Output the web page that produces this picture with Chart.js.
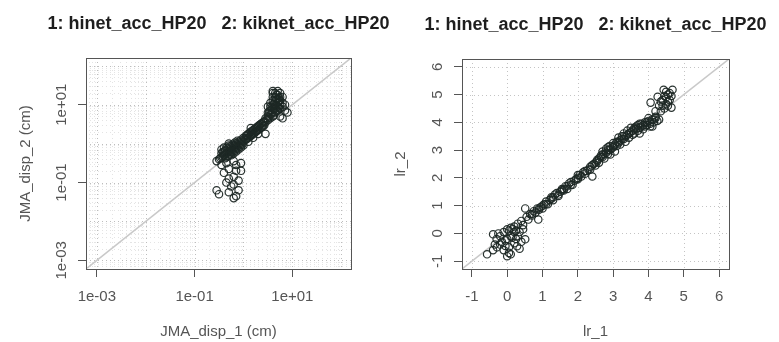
<!DOCTYPE html>
<html>
<head>
<meta charset="utf-8">
<script src="https://cdn.jsdelivr.net/npm/chart.js@4.4.1/dist/chart.umd.min.js"></script>
<style>
html, body { margin: 0; padding: 0; background: #fff; }
body { width: 779px; height: 342px; position: relative; overflow: hidden; }
canvas { position: absolute; top: 0; }
</style>
</head>
<body>
<canvas id="dispChart" width="437" height="342" style="left:0"></canvas>
<canvas id="lrChart" width="411" height="342" style="left:390px"></canvas>
<script>
const plotTitle = '1: hinet_acc_HP20   2: kiknet_acc_HP20';

// left panel: JMA displacement (cm), log axes
const dispLim = [0.000631, 158.5];
const dispTicks = [0.001, 0.1, 10];
const dispTickLabels = ['1e-03', '1e-01', '1e+01'];
const dispX = [
  0.282, 0.316, 0.501, 0.631, 0.794, 0.708, 0.447, 0.631, 0.398, 0.708, 0.891, 0.501, 0.631, 0.562, 0.794, 0.501, 0.708, 0.282, 0.355, 0.891, 0.631, 0.447,
  0.316, 0.355, 0.398, 0.355, 0.398, 0.447, 0.447, 0.501, 0.501, 0.447, 0.501, 0.562, 0.562, 0.562, 0.631, 0.631, 0.631, 0.708, 0.708, 0.708, 0.794, 0.794, 0.794, 0.891, 0.891, 0.891, 1.0, 1.0, 1.0, 0.398, 0.355, 0.501,
  1.12, 1.12, 1.26, 1.26, 1.41, 1.41, 1.58, 1.58, 1.78, 1.78, 2.0, 2.0, 2.24, 2.24, 2.51, 2.51, 1.26, 1.58, 2.0, 2.82, 1.41,
  2.82, 2.82, 3.16, 3.16, 3.16, 3.55, 3.55, 3.55, 3.55, 3.98, 3.98, 3.98, 3.98, 3.98, 4.47, 4.47, 4.47, 4.47, 4.47, 5.01, 5.01, 5.01, 5.01, 5.01, 5.62, 5.62, 5.62, 5.62, 6.31, 6.31, 3.98, 3.98, 4.47, 5.01, 3.55, 3.16,
  6.31, 7.94, 7.08, 5.62, 7.08, 6.31, 3.98, 5.62,
  0.335, 0.376, 0.422, 0.473, 0.531, 0.596, 0.668, 0.750, 0.841, 0.944, 1.059, 0.376, 0.422, 0.473, 0.531, 0.596, 0.668, 0.750, 0.422, 0.473, 0.531, 0.596, 0.668, 0.750, 0.841, 0.944,
  1.189, 1.334, 1.496, 1.679, 1.884, 2.113, 2.371, 2.661, 1.189, 1.334, 1.496, 1.679, 1.884, 2.113, 2.371, 2.661,
  2.985, 3.350, 3.758, 4.217, 4.732, 5.309, 4.217, 4.732, 3.758, 3.350, 4.217, 4.732, 5.309, 4.732, 5.309
];
const dispY = [
  0.0631, 0.0501, 0.0562, 0.0398, 0.0631, 0.0447, 0.1, 0.0891, 0.178, 0.2, 0.2, 0.126, 0.141, 0.0794, 0.112, 0.224, 0.282, 0.355, 0.282, 0.316, 0.355, 0.316,
  0.398, 0.447, 0.501, 0.562, 0.631, 0.562, 0.447, 0.501, 0.631, 0.794, 0.891, 0.631, 0.794, 0.501, 0.708, 0.891, 0.562, 0.794, 1.0, 0.631, 0.891, 1.12, 0.708, 1.0, 1.26, 0.794, 1.12, 1.41, 0.891, 0.794, 0.708, 1.0,
  1.26, 1.58, 1.41, 1.78, 1.58, 2.0, 1.78, 2.24, 2.0, 2.51, 2.24, 2.82, 2.51, 3.16, 2.82, 3.55, 1.12, 1.41, 1.78, 1.78, 2.51,
  3.55, 4.47, 3.98, 5.01, 6.31, 4.47, 5.62, 7.08, 8.91, 5.01, 6.31, 7.94, 10, 12.6, 6.31, 7.94, 10, 12.6, 15.8, 7.08, 8.91, 11.2, 14.1, 17.8, 7.94, 10, 12.6, 15.8, 8.91, 11.2, 15.8, 20, 20, 22.4, 11.2, 8.91,
  4.47, 6.31, 7.08, 5.01, 10, 15.8, 22.4, 20,
  0.422, 0.473, 0.531, 0.596, 0.668, 0.750, 0.841, 0.944, 1.059, 1.189, 1.334, 0.596, 0.668, 0.750, 0.841, 0.944, 1.059, 1.189, 0.422, 0.473, 0.531, 0.596, 0.668, 0.750, 0.841, 0.944,
  1.334, 1.496, 1.679, 1.884, 2.113, 2.371, 2.661, 2.985, 1.679, 1.884, 2.113, 2.371, 2.661, 2.985, 3.350, 3.758,
  4.217, 4.732, 5.957, 7.499, 9.441, 11.89, 10.59, 13.34, 8.414, 6.683, 5.309, 6.683, 8.414, 17.78, 14.96
];

// right panel: lr_1 vs lr_2, linear axes
const lrLim = [-1.28, 6.28];
const lrTicks = [-1, 0, 1, 2, 3, 4, 5, 6];
const lrX = [
  -0.57, -0.4, -0.35, -0.29, -0.3, -0.4, -0.25, -0.15, -0.1, 0, 0.05, 0.1, -0.05, 0, 0.05, 0.1, 0.15, 0.2, 0.28, 0.35, 0.4, 0.51, 0.3, 0.2, 0.1, -0.1, 0, -0.2, 0.35, 0.25, 0.45, 0.4, 0.51, 0.6, 0.88, 0.7, 0.55, 0.3,
  0.75, 0.8, 0.9, 1.0, 1.0, 1.1, 1.15, 1.2, 1.3, 1.3, 1.4, 1.45, 1.5, 1.55, 1.6, 1.7, 1.7, 1.8, 1.85, 1.9, 2.0, 2.0, 2.1, 2.15, 2.2, 2.3, 2.35, 2.41, 2.45, 2.5, 2.5,
  2.6, 2.6, 2.65, 2.7, 2.7, 2.75, 2.8, 2.8, 2.85, 2.9, 2.92, 2.9, 3.0, 3.0, 3.05, 3.1, 3.1, 3.15, 3.2, 3.2, 3.25, 3.3, 3.3, 3.35, 3.4, 3.4, 3.45, 3.5, 3.5, 3.55, 3.6, 3.6, 3.65, 3.7, 3.7, 3.75, 3.8, 3.8, 3.85, 3.9, 3.95, 4.0, 4.0, 4.05, 4.1, 4.11, 4.15, 4.2, 4.25, 4.3,
  4.26, 4.43, 4.68, 4.65, 4.06, 4.3, 4.4, 4.5, 4.55, 4.6, 4.45, 4.5, 4.6, 4.35, 4.55, 4.2,
  0.65, 0.85, 0.95, 1.05, 1.25, 1.35, 1.55, 1.65, 1.75, 1.95, 2.05, 2.25, 2.4, 2.55, 2.65, 2.75, 2.85, 2.95, 3.05, 3.15, 3.25, 3.35, 3.45, 3.55, 3.65, 3.75, 3.85, 3.95, 4.05, 4.15,
  0.7, 0.9, 1.1, 1.25, 1.45, 1.6, 1.8, 2.0, 2.2, 2.35, 2.55, 2.7, 2.85, 3.0, 3.15, 3.3, 3.45, 3.6, 3.75, 3.9, 4.05, 4.2,
  4.35, 4.45, 4.55, 4.65, 4.4, 4.5,
  -0.2, 0.05, 0.15, 0.25, -0.05, 0.2, 0.45
];
const lrY = [
  -0.75, -0.6, -0.4, -0.5, -0.2, -0.03, 0.0, -0.3, -0.6, -0.82, -0.7, -0.75, -0.45, -0.2, 0.1, -0.1, 0.15, -0.35, -0.46, -0.55, -0.3, -0.21, -0.1, 0.25, 0.2, 0.05, 0.15, -0.1, 0.05, 0.1, 0.3, 0.45, 0.9, 0.5, 0.5, 0.7, 0.6, 0.35,
  0.8, 0.75, 0.9, 1.0, 0.9, 1.15, 1.05, 1.2, 1.3, 1.2, 1.45, 1.35, 1.5, 1.6, 1.55, 1.7, 1.6, 1.85, 1.75, 1.9, 2.0, 2.1, 2.05, 2.2, 2.15, 2.3, 2.4, 2.05, 2.5, 2.55, 2.45,
  2.7, 2.55, 2.8, 2.75, 2.95, 2.7, 2.9, 3.05, 2.85, 3.0, 2.84, 3.15, 3.1, 3.25, 2.95, 3.3, 3.15, 3.45, 3.35, 3.2, 3.5, 3.4, 3.6, 3.3, 3.55, 3.7, 3.45, 3.65, 3.8, 3.55, 3.75, 3.6, 3.85, 3.7, 3.9, 3.6, 3.85, 3.95, 3.75, 4.0, 3.9, 4.05, 4.15, 3.85, 4.1, 3.85, 4.0, 4.2, 4.05, 4.1,
  4.92, 5.17, 5.17, 4.53, 4.71, 4.6, 4.8, 4.9, 5.0, 4.8, 4.5, 4.65, 5.05, 4.4, 4.6, 4.4,
  0.7, 0.9, 0.95, 1.05, 1.3, 1.4, 1.55, 1.7, 1.8, 1.95, 2.1, 2.25, 2.45, 2.65, 2.75, 2.85, 3.0, 3.05, 3.2, 3.3, 3.4, 3.5, 3.6, 3.7, 3.75, 3.8, 3.9, 4.0, 4.0, 4.1,
  0.65, 0.85, 1.05, 1.25, 1.4, 1.6, 1.75, 1.95, 2.25, 2.3, 2.6, 2.85, 3.1, 3.15, 3.25, 3.5, 3.6, 3.8, 3.95, 3.85, 3.95, 4.15,
  4.75, 4.95, 4.75, 4.95, 4.6, 5.1,
  -0.4, -0.5, -0.15, -0.2, -0.25, 0.05, 0.15
];

Chart.defaults.font.family = '"Liberation Sans", Arial, sans-serif';

// dotted grid and the full box round the plot region
const framePlugin = {
  id: 'frame',
  beforeDatasetsDraw(chart, args, opts) {
    const { ctx, chartArea: a, scales: { x, y } } = chart;
    ctx.save();
    ctx.lineWidth = 1;
    ctx.setLineDash([1, 3]);
    for (const g of opts.lines) {
      ctx.strokeStyle = g.color;
      for (const v of g.values) {
        const px = Math.round(x.getPixelForValue(v)) + 0.5;
        if (px > a.left && px < a.right) {
          ctx.beginPath(); ctx.moveTo(px, a.top); ctx.lineTo(px, a.bottom); ctx.stroke();
        }
        const py = Math.round(y.getPixelForValue(v)) + 0.5;
        if (py > a.top && py < a.bottom) {
          ctx.beginPath(); ctx.moveTo(a.left, py); ctx.lineTo(a.right, py); ctx.stroke();
        }
      }
    }
    ctx.restore();
  },
  afterDraw(chart) {
    const { ctx, chartArea: a } = chart;
    ctx.save();
    ctx.strokeStyle = '#555';
    ctx.lineWidth = 1;
    ctx.strokeRect(Math.round(a.left) + 0.5, Math.round(a.top) + 0.5, Math.round(a.right - a.left), Math.round(a.bottom - a.top));
    ctx.restore();
  }
};

function axisOpts(p) {
  return {
    type: p.type,
    min: p.lim[0],
    max: p.lim[1],
    afterBuildTicks: s => { s.ticks = p.ticks.map(value => ({ value })); },
    afterFit: s => { if (p.vertical) s.width = p.size; else s.height = p.size; },
    border: { display: false },
    grid: { drawOnChartArea: false, drawTicks: true, tickLength: 8, color: '#555' },
    ticks: {
      autoSkip: false,
      color: '#555',
      font: { size: 15 },
      padding: p.tickPad,
      minRotation: p.vertical ? 90 : 0,
      maxRotation: p.vertical ? 90 : 0,
      crossAlign: p.vertical ? 'center' : 'near',
      callback: (v, i) => p.labels[i]
    },
    title: {
      display: true,
      text: p.title,
      color: '#555',
      font: { size: 15 },
      padding: p.titlePad
    }
  };
}

function makeChart(id, p) {
  const points = p.xs.map((x, i) => ({ x, y: p.ys[i] }));
  return new Chart(document.getElementById(id), {
    type: 'scatter',
    data: {
      datasets: [
        {
          data: points,
          pointStyle: 'circle',
          pointRadius: 3.7,
          pointBorderWidth: 1.2,
          pointBorderColor: 'rgba(30,40,37,0.95)',
          pointBackgroundColor: 'rgba(0,0,0,0)'
        },
        {
          data: [{ x: p.lim[0], y: p.lim[0] }, { x: p.lim[1], y: p.lim[1] }],
          showLine: true,
          pointRadius: 0,
          borderColor: '#c9c9c9',
          borderWidth: 1.5
        }
      ]
    },
    options: {
      responsive: false,
      animation: false,
      events: [],
      layout: { padding: 0 },
      plugins: {
        legend: { display: false },
        tooltip: { enabled: false },
        // full width title so it is centred over the plot box without being squeezed
        title: {
          display: true,
          text: plotTitle,
          fullSize: true,
          color: '#1e1e1e',
          font: { size: 18, weight: 'bold' },
          padding: p.headPad
        },
        frame: { lines: p.grid }
      },
      scales: {
        x: axisOpts({ type: p.type, lim: p.lim, ticks: p.ticks, labels: p.labels, title: p.xTitle,
          vertical: false, size: 73, tickPad: 11, titlePad: { top: 0, bottom: 1 } }),
        y: axisOpts({ type: p.type, lim: p.lim, ticks: p.ticks, labels: p.labels, title: p.yTitle,
          vertical: true, size: p.yWidth, tickPad: p.yTickPad, titlePad: { top: p.yTitleTop, bottom: 0 } }),
        // empty spacer on the right, same width as the left axis
        yPad: {
          position: 'right',
          ticks: { display: false },
          grid: { display: false, drawTicks: false },
          border: { display: false },
          afterFit: s => { s.width = p.yWidth; }
        }
      }
    },
    plugins: [framePlugin]
  });
}

// log grid: every decade, fainter lines at 2..9 inside each decade
const decades = [0.0001, 0.001, 0.01, 0.1, 1, 10, 100];
const minorGrid = [];
decades.forEach(d => { for (let k = 2; k <= 9; k++) minorGrid.push(d * k); });

makeChart('dispChart', {
  type: 'logarithmic', lim: dispLim, ticks: dispTicks, labels: dispTickLabels,
  xs: dispX, ys: dispY,
  xTitle: 'JMA_disp_1 (cm)', yTitle: 'JMA_disp_2 (cm)',
  yWidth: 86, yTickPad: -5, yTitleTop: 17,
  headPad: { top: 12.9, bottom: 23.5 },
  grid: [{ values: minorGrid, color: '#e4e4e4' }, { values: decades, color: '#bdbdbd' }]
});

makeChart('lrChart', {
  type: 'linear', lim: lrLim, ticks: lrTicks, labels: lrTicks.map(String),
  xs: lrX, ys: lrY,
  xTitle: 'lr_1', yTitle: 'lr_2',
  yWidth: 72, yTickPad: 9.3, yTitleTop: 2,
  headPad: { top: 13.9, bottom: 23.5 },
  grid: [{ values: lrTicks, color: '#c4c4c4' }]
});
</script>
</body>
</html>
